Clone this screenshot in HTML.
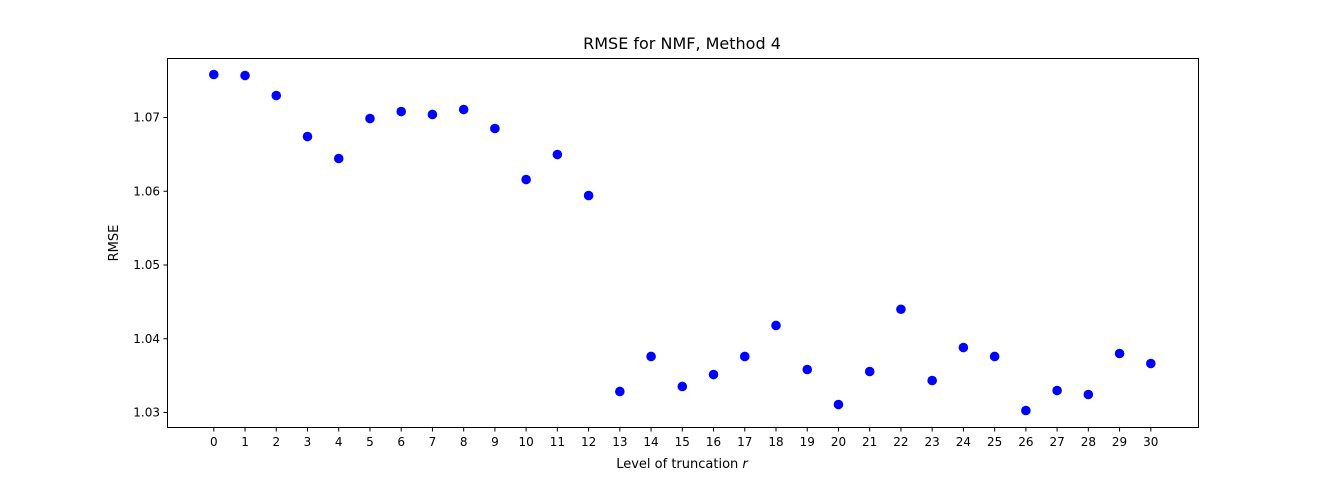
<!DOCTYPE html>
<html><head><meta charset="utf-8"><style>
body{margin:0;background:#fff;}
svg{display:block;font-family:"DejaVu Sans","Liberation Sans",sans-serif;}
</style></head><body>
<svg id="chart" width="1331" height="480">
<rect x="0" y="0" width="1331" height="480" fill="#fff"/>
<text x="682" y="49" font-size="16" text-anchor="middle">RMSE for NMF, Method 4</text>
<text x="682" y="468" font-size="13" text-anchor="middle">Level of truncation <tspan font-style="italic">r</tspan></text>
<text transform="translate(118,243) rotate(-90)" font-size="13" text-anchor="middle">RMSE</text>
<g id="ticks"></g>
<g id="points"></g>
<rect x="167.5" y="58.5" width="1031" height="369" fill="none" stroke="#000" stroke-width="1"/>
</svg>
<script>
const categories=[0,1,2,3,4,5,6,7,8,9,10,11,12,13,14,15,16,17,18,19,20,21,22,23,24,25,26,27,28,29,30];
const rmseValues=[1.07583,1.07569,1.07298,1.06742,1.06444,1.06986,1.07081,1.07041,1.07108,1.06851,1.06159,1.06498,1.05942,1.03285,1.0376,1.03353,1.03515,1.0376,1.0418,1.03583,1.03108,1.03556,1.0440,1.03434,1.03881,1.0376,1.03027,1.03298,1.03244,1.038,1.03664];
const yTicks=[1.03,1.04,1.05,1.06,1.07];
const yTickLabels=["1.03","1.04","1.05","1.06","1.07"];
const NS="http://www.w3.org/2000/svg";
function xs(v){return 213.8+(v-0)*(1150.8-213.8)/30;}
function ys(v){return 412.5+(v-1.03)*(117.5-412.5)/0.04;}
const tg=document.getElementById('ticks');
const pg=document.getElementById('points');
categories.forEach(c=>{
  const l=document.createElementNS(NS,'line');
  l.setAttribute('x1',xs(c));l.setAttribute('x2',xs(c));l.setAttribute('y1',427.5);l.setAttribute('y2',431.5);l.setAttribute('stroke','#000');
  
  
  tg.appendChild(l);
  const t=document.createElementNS(NS,'text');
  t.setAttribute('x',xs(c));t.setAttribute('y',446);t.setAttribute('font-size','12');t.setAttribute('text-anchor','middle');
  t.textContent=c;
  
  
  tg.appendChild(t);
});
yTicks.forEach((v,i)=>{
  const l=document.createElementNS(NS,'line');
  l.setAttribute('x1',163.5);l.setAttribute('x2',167.5);l.setAttribute('y1',ys(v));l.setAttribute('y2',ys(v));l.setAttribute('stroke','#000');
  
  
  tg.appendChild(l);
  const t=document.createElementNS(NS,'text');
  t.setAttribute('x',160);t.setAttribute('y',ys(v)+4);t.setAttribute('font-size','12');t.setAttribute('text-anchor','end');
  t.textContent=yTickLabels[i];
  
  
  tg.appendChild(t);
});
categories.forEach((c,i)=>{
  const p=document.createElementNS(NS,'circle');
  p.setAttribute('cx',xs(c));p.setAttribute('cy',ys(rmseValues[i]));p.setAttribute('r',4.8);p.setAttribute('fill','#0000ff');
  
  
  pg.appendChild(p);
});
</script>
</body></html>
